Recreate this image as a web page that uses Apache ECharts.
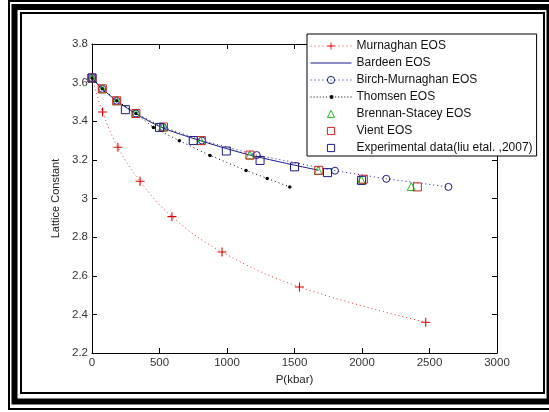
<!DOCTYPE html>
<html>
<head>
<meta charset="utf-8">
<script src="https://cdn.jsdelivr.net/npm/echarts@6/dist/echarts.min.js"></script>
<style>
html, body { margin: 0; padding: 0; background: #fff; }
#chart { width: 549px; height: 412px; }
</style>
</head>
<body>
<div id="chart"></div>
<script>
// data: [P (kbar), lattice constant]
var murnaghan = [[0, 3.624], [78, 3.448], [192, 3.265], [356, 3.089], [592, 2.906], [963, 2.723], [1537, 2.542], [2472, 2.359]];
var bardeen = [[0, 3.624], [76, 3.568], [183, 3.506], [325, 3.44], [510, 3.37], [800, 3.30], [1170, 3.225], [1680, 3.146]];
var birch = [[0, 3.624], [76, 3.568], [183, 3.506], [325, 3.44], [525, 3.37], [815, 3.30], [1220, 3.225], [1800, 3.144], [2180, 3.102], [2640, 3.06]];
var thomsen = [[0, 3.624], [76, 3.568], [183, 3.506], [325, 3.44], [455, 3.368], [647, 3.299], [874, 3.223], [1141, 3.145], [1298, 3.104], [1465, 3.06]];
var brennan = [[0, 3.624], [76, 3.568], [183, 3.506], [325, 3.44], [525, 3.37], [805, 3.30], [1170, 3.225], [1675, 3.146], [1995, 3.096], [2365, 3.062]];
var vient = [[0, 3.624], [76, 3.568], [183, 3.506], [325, 3.44], [530, 3.37], [810, 3.30], [1170, 3.225], [1680, 3.146], [2010, 3.10], [2410, 3.06]];
var experimental = [[0, 3.624], [247, 3.46], [500, 3.368], [750, 3.30], [995, 3.246], [1245, 3.197], [1500, 3.164], [1745, 3.134], [1997, 3.094]];

var seriesNames = ['Murnaghan EOS', 'Bardeen EOS', 'Birch-Murnaghan EOS', 'Thomsen EOS', 'Brennan-Stacey EOS', 'Vient EOS', 'Experimental data(liu etal. ,2007)'];

var FONT = 'Liberation Sans, Arial, sans-serif';
var NAVY = '#1a1a8c';
var plusPath = 'path://M4.4,0H5.6V4.4H10V5.6H5.6V10H4.4V5.6H0V4.4H4.4Z';
var ICON_W = 41;

// legend icons: solid line for Bardeen, dotted line with a small dot for Thomsen
var solidIcon = 'path://M0,0H' + ICON_W + 'V1H0Z';
var dotIcon = (function () {
	var p = '';
	for (var x = 0; x <= ICON_W - 1; x += 3) {
		if (Math.abs(x + 0.5 - ICON_W / 2) < 4) continue;
		p += 'M' + x + ',1.5H' + (x + 1) + 'V2.5H' + x + 'Z';
	}
	var c = ICON_W / 2;
	p += 'M' + (c - 2) + ',2A2,2 0 1,0 ' + (c + 2) + ',2A2,2 0 1,0 ' + (c - 2) + ',2Z';
	return 'path://' + p;
})();

var chart = echarts.init(document.getElementById('chart'));

function axisCommon(extra) {
	var a = {
		type: 'value',
		axisLine: { show: true, onZero: false, lineStyle: { color: '#000', width: 1 } },
		axisTick: { show: true, inside: true, length: 5, lineStyle: { color: '#000' } },
		splitLine: { show: false },
		axisLabel: { color: '#333', fontFamily: FONT, fontSize: 11.5 }
	};
	for (var k in extra) a[k] = extra[k];
	return a;
}

var option = {
	backgroundColor: '#fff',
	animation: false,
	grid: { left: 92, top: 44, right: 52, bottom: 59 },
	xAxis: [
		axisCommon({
			min: 0, max: 3000, interval: 500,
			name: 'P(kbar)', nameLocation: 'middle', nameGap: 18,
			nameTextStyle: { color: '#222', fontFamily: FONT, fontSize: 11.5 },
			axisLabel: {
				color: '#333', fontFamily: FONT, fontSize: 11.5, margin: 4,
				formatter: function (v) { return String(v); }
			}
		}),
		axisCommon({ min: 0, max: 3000, interval: 500, position: 'top', axisLabel: { show: false } })
	],
	yAxis: [
		axisCommon({
			min: 2.2, max: 3.8, interval: 0.2,
			name: 'Lattice Constant', nameLocation: 'middle', nameGap: 30,
			nameTextStyle: { color: '#222', fontFamily: FONT, fontSize: 11 },
			axisLabel: {
				color: '#333', fontFamily: FONT, fontSize: 11.5, margin: 4,
				formatter: function (v) { return String(+v.toFixed(1)); }
			}
		}),
		axisCommon({ min: 2.2, max: 3.8, interval: 0.2, position: 'right', axisLabel: { show: false } })
	],
	legend: {
		orient: 'vertical',
		left: 307, top: 34,
		data: [
			{ name: seriesNames[0] },
			{ name: seriesNames[1], icon: solidIcon, itemStyle: { borderWidth: 0 } },
			{ name: seriesNames[2] },
			{ name: seriesNames[3], icon: dotIcon, itemStyle: { borderWidth: 0 } },
			{ name: seriesNames[4] },
			{ name: seriesNames[5] },
			{ name: seriesNames[6] }
		],
		backgroundColor: '#fff',
		borderColor: '#000',
		borderWidth: 1,
		padding: [6, 4, 2, 3],
		itemWidth: ICON_W,
		itemHeight: 9,
		itemGap: 5,
		itemStyle: { borderWidth: 1 },
		lineStyle: { width: 1 },
		textStyle: { color: '#111', fontFamily: FONT, fontSize: 12, lineHeight: 12 }
	},
	series: [
		{
			name: seriesNames[0], type: 'line', data: murnaghan, smooth: 0.4, clip: false,
			symbol: plusPath, symbolSize: 9,
			lineStyle: { color: '#e23a3a', width: 1, type: [1, 3] },
			itemStyle: { color: '#e00000' }
		},
		{
			name: seriesNames[1], type: 'line', data: bardeen, smooth: 0.3, clip: false,
			symbol: 'none',
			lineStyle: { color: NAVY, width: 1 },
			itemStyle: { color: NAVY }
		},
		{
			name: seriesNames[2], type: 'line', data: birch, clip: false,
			symbol: 'circle', symbolSize: 7,
			lineStyle: { color: NAVY, width: 1, type: [1, 3] },
			itemStyle: { color: 'rgba(0,0,0,0)', borderColor: NAVY, borderWidth: 1 }
		},
		{
			name: seriesNames[3], type: 'line', data: thomsen, clip: false,
			symbol: 'circle', symbolSize: 3.5,
			lineStyle: { color: '#000', width: 1, type: [1, 3] },
			itemStyle: { color: '#000' }
		},
		{
			name: seriesNames[4], type: 'line', data: brennan, clip: false,
			symbol: 'triangle', symbolSize: 8,
			lineStyle: { opacity: 0, width: 0 },
			itemStyle: { color: 'rgba(0,0,0,0)', borderColor: '#22bb22', borderWidth: 1 }
		},
		{
			name: seriesNames[5], type: 'line', data: vient, clip: false,
			symbol: 'rect', symbolSize: 8,
			lineStyle: { opacity: 0, width: 0 },
			itemStyle: { color: 'rgba(0,0,0,0)', borderColor: '#d02020', borderWidth: 1 }
		},
		{
			name: seriesNames[6], type: 'line', data: experimental, clip: false,
			symbol: 'rect', symbolSize: 8,
			lineStyle: { opacity: 0, width: 0 },
			itemStyle: { color: 'rgba(0,0,0,0)', borderColor: NAVY, borderWidth: 1 }
		}
	],
	// triple picture frame
	graphic: [
		{ type: 'rect', z: 100, silent: true, shape: { x: 9, y: 1, width: 600, height: 408 }, style: { fill: null, stroke: '#000', lineWidth: 2 } },
		{ type: 'rect', z: 100, silent: true, shape: { x: 14.5, y: 7, width: 535, height: 394.5 }, style: { fill: null, stroke: '#000', lineWidth: 6 } },
		{ type: 'rect', z: 100, silent: true, shape: { x: 21, y: 13, width: 523, height: 380 }, style: { fill: null, stroke: '#000', lineWidth: 2 } }
	]
};

chart.setOption(option);
</script>
</body>
</html>
